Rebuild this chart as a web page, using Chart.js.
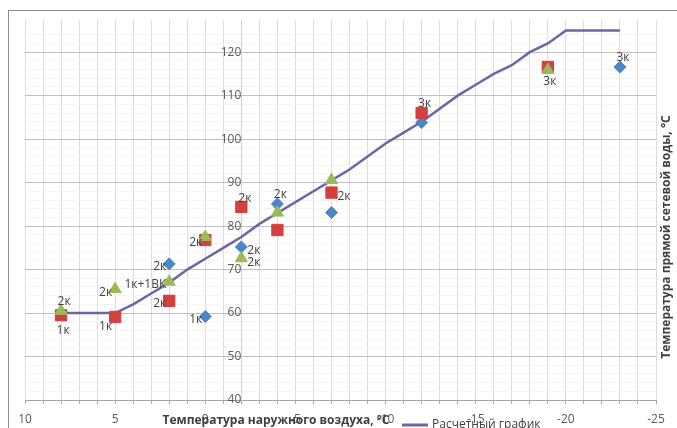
<!DOCTYPE html>
<html>
<head>
<meta charset="utf-8">
<script src="https://cdn.jsdelivr.net/npm/chart.js@4.4.0/dist/chart.umd.min.js"></script>
<style>
  html, body { margin: 0; padding: 0; background: #fff; }
  canvas { display: block; }
</style>
</head>
<body>
<canvas id="chart" width="677" height="428"></canvas>
<script>
// расчетный температурный график
const curveX = [8, 7, 6, 5, 4, 3, 2, 1, 0, -1, -2, -3, -4, -5, -6, -7, -8, -9, -10, -11, -12, -13, -14, -15, -16, -17, -18, -19, -20, -21, -22, -23];
const curveT = [60, 60, 60, 60, 62, 64.5, 67, 70, 72.5, 75, 77.5, 80.5, 83, 85.5, 88, 90.5, 93, 96, 99, 101.5, 104, 107, 110, 112.5, 115, 117, 120, 122, 125, 125, 125, 125];

// замеры (синие ромбы)
const blueX = [2, 0, -2, -4, -7, -12, -23];
const blueT = [71.3, 59.2, 75.2, 85.1, 83.1, 103.8, 116.6];
const blueLbl = ['2к', '1к', '2к', '2к', '', '', '3к'];
const blueAt = ['left', 'left', 'right', 'above', '', '', 'above'];

// замеры (красные квадраты)
const redX = [8, 5, 2, 0, -2, -4, -7, -12, -19];
const redT = [59.5, 59.1, 62.8, 76.8, 84.4, 79.1, 87.7, 106, 116.6];
const redLbl = ['1к', '1к', '2к', '2к', '2к', '', '2к', '3к', '3к'];
const redAt = ['below', 'belowLeft', 'left', 'left', 'aboveRight', '', 'right', 'above', 'below'];

// замеры (зеленые треугольники)
const greenX = [8, 5, 2, 0, -2, -4, -7, -19];
const greenT = [60.5, 65.5, 67.2, 77.5, 72.6, 83.1, 90.6, 115.9];
const greenLbl = ['2к', '2к', '1к+1ВК', '', '2к', '', '', ''];
const greenAt = ['above', 'left', 'left', '', 'right', '', '', ''];

const xTitle = 'Температура наружного воздуха, °C';
const yTitle = 'Температура прямой сетевой воды, °C';
const curveName = 'Расчетный график';

const FONT = '"Open Sans", "Liberation Sans", sans-serif';

function pts(xs, ys) {
  return xs.map((x, i) => ({ x: x, y: ys[i] }));
}

const pointLabels = {
  id: 'pointLabels',
  afterDatasetsDraw(chart) {
    const ctx = chart.ctx;
    ctx.save();
    ctx.font = '12px ' + FONT;
    ctx.fillStyle = '#404040';
    ctx.textBaseline = 'middle';
    chart.data.datasets.forEach((ds, di) => {
      if (!ds.pointText) return;
      const meta = chart.getDatasetMeta(di);
      meta.data.forEach((el, i) => {
        const t = ds.pointText[i];
        if (!t) return;
        let x = el.x, y = el.y;
        switch (ds.pointTextAt[i]) {
          case 'left': ctx.textAlign = 'right'; x -= 3; y += 3; break;
          case 'right': ctx.textAlign = 'left'; x += 6; y += 4; break;
          case 'above': ctx.textAlign = 'center'; x += 3; y -= 9; break;
          case 'below': ctx.textAlign = 'center'; x += 2; y += 15; break;
          case 'aboveRight': ctx.textAlign = 'left'; x -= 3; y -= 8; break;
          case 'belowLeft': ctx.textAlign = 'right'; x -= 3; y += 10; break;
        }
        ctx.fillText(t, x, y);
      });
    });
    ctx.restore();
  }
};

const frame = {
  id: 'frame',
  beforeDraw(chart) {
    const ctx = chart.ctx;
    ctx.save();
    ctx.fillStyle = '#fff';
    ctx.fillRect(0, 0, chart.width, chart.height);
    ctx.strokeStyle = '#8c8c8c';
    ctx.lineWidth = 1;
    ctx.strokeRect(8.5, 10.5, 700, 500);
    ctx.restore();
  },
  afterDraw(chart) {
    const ctx = chart.ctx;
    ctx.save();
    ctx.fillStyle = '#404040';
    ctx.font = 'bold 12px ' + FONT;
    ctx.textBaseline = 'middle';
    ctx.textAlign = 'center';
    ctx.fillText(xTitle, 276, 421);

    ctx.translate(667, 237);
    ctx.rotate(-Math.PI / 2);
    ctx.fillText(yTitle, 0, 0);
    ctx.restore();

    // легенда
    const ds = chart.data.datasets.find(d => d.label === curveName);
    ctx.save();
    ctx.strokeStyle = ds.borderColor;
    ctx.lineWidth = 3;
    ctx.beginPath();
    ctx.moveTo(402, 425);
    ctx.lineTo(428, 425);
    ctx.stroke();
    ctx.fillStyle = '#404040';
    ctx.font = '12px ' + FONT;
    ctx.textBaseline = 'middle';
    ctx.fillText(curveName, 432, 425);
    ctx.restore();
  }
};

new Chart(document.getElementById('chart'), {
  type: 'scatter',
  data: {
    datasets: [
      {
        label: 'green',
        data: pts(greenX, greenT),
        pointStyle: 'triangle',
        pointRadius: 7,
        backgroundColor: '#9bbb59',
        borderColor: '#9bbb59',
        pointText: greenLbl,
        pointTextAt: greenAt
      },
      {
        label: 'red',
        data: pts(redX, redT),
        pointStyle: 'rect',
        pointRadius: 8,
        backgroundColor: '#d4403f',
        borderColor: '#d4403f',
        pointText: redLbl,
        pointTextAt: redAt
      },
      {
        label: 'blue',
        data: pts(blueX, blueT),
        pointStyle: 'rectRot',
        pointRadius: 6,
        backgroundColor: '#4a86c8',
        borderColor: '#4a86c8',
        pointText: blueLbl,
        pointTextAt: blueAt
      },
      {
        label: curveName,
        type: 'line',
        data: pts(curveX, curveT),
        borderColor: '#6e64a8',
        borderWidth: 2.5,
        pointRadius: 0,
        fill: false,
        tension: 0
      }
    ]
  },
  options: {
    responsive: false,
    animation: false,
    devicePixelRatio: 1,
    layout: { padding: { left: 25, right: 21, top: 20, bottom: 0 } },
    plugins: {
      legend: { display: false },
      tooltip: { enabled: false }
    },
    scales: {
      x: {
        type: 'linear',
        position: 'bottom',
        reverse: true,
        min: -25,
        max: 10,
        afterFit: s => { s.height = 28; },
        ticks: {
          stepSize: 1,
          autoSkip: false,
          maxRotation: 0,
          padding: 8,
          color: '#595959',
          font: { family: FONT, size: 12 },
          callback: v => (v % 5 === 0 ? String(v) : '')
        },
        grid: {
          color: '#dcdcdc',
          tickLength: 4,
          tickColor: '#a6a6a6'
        },
        border: { color: '#a6a6a6' }
      },
      y: {
        type: 'linear',
        position: { x: -2 },
        min: 40,
        max: 127.4,
        afterBuildTicks: s => {
          s.ticks = s.ticks.filter(t => Math.abs(t.value - Math.round(t.value)) < 1e-6 && Math.round(t.value) % 2 === 0);
        },
        ticks: {
          stepSize: 2,
          autoSkip: false,
          padding: 0,
          color: '#595959',
          font: { family: FONT, size: 12 },
          callback: v => (v % 10 === 0 ? String(v) : '')
        },
        grid: {
          color: c => (c.tick && c.tick.value % 10 === 0 ? '#bfbfbf' : '#f3f3f3'),
          tickLength: 4,
          tickColor: c => (c.tick && c.tick.value % 10 === 0 ? '#a6a6a6' : 'rgba(0,0,0,0)')
        },
        border: { color: '#d0d0d0' }
      }
    }
  },
  plugins: [frame, pointLabels]
});
</script>
</body>
</html>
